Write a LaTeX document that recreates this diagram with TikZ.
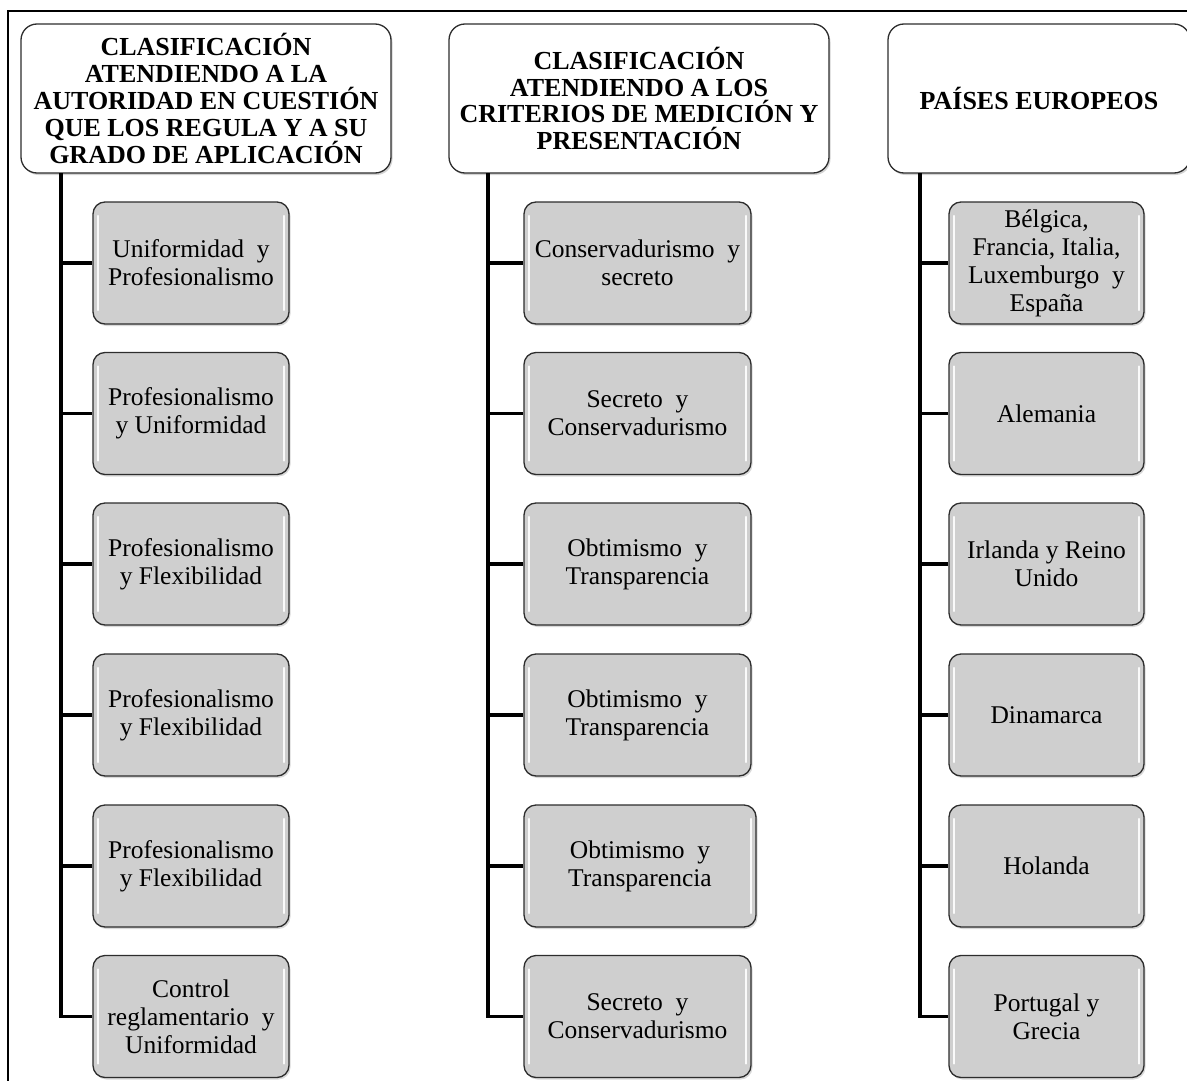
\documentclass[tikz,border=0pt]{standalone}
\usepackage{fontspec}
\setmainfont{Liberation Serif}
\usetikzlibrary{shadows}

\definecolor{itemgray}{RGB}{207,207,207}
\definecolor{edgegray}{RGB}{45,45,45}

\tikzset{
  frameline/.style={line width=2pt, black},
  trunk/.style={line width=3.2pt, black},
  header/.style={
    draw=edgegray, line width=1.3pt, fill=white, rounded corners=16pt,
    align=center, inner sep=0pt, minimum height=149pt,
    font=\fontsize{26}{26.8}\selectfont\bfseries,
    drop shadow={shadow xshift=1.5pt, shadow yshift=-2pt, opacity=0.35}},
  item/.style={
    draw=edgegray, line width=1.3pt, fill=itemgray, rounded corners=12pt,
    align=center, inner sep=0pt, minimum height=122pt,
    font=\fontsize{25.5}{28}\selectfont,
    drop shadow={shadow xshift=1.5pt, shadow yshift=-2pt, opacity=0.3},
    path picture={
      \draw[white, line width=2.4pt, opacity=0.9, line cap=round]
        ([xshift=5pt,yshift=-14pt]path picture bounding box.north west) --
        ([xshift=5pt,yshift=14pt]path picture bounding box.south west);
      \draw[white, line width=2.4pt, opacity=0.9, line cap=round]
        ([xshift=-5pt,yshift=-14pt]path picture bounding box.north east) --
        ([xshift=-5pt,yshift=14pt]path picture bounding box.south east);
    }},
  colA/.style={item, minimum width=196pt},
  colB/.style={item, minimum width=227pt},
  colC/.style={item, minimum width=195pt},
}

\begin{document}
\begin{tikzpicture}[x=1pt, y=-1pt]
\useasboundingbox (0,0) rectangle (1187,1081);

% outer frame (left and top edges)
\draw[frameline] (8,1090) -- (8,11) -- (1195,11);

% headers
\node[header, minimum width=370pt] (h1) at (206,98.5)
  {CLASIFICACIÓN\\ATENDIENDO A LA\\AUTORIDAD EN CUESTIÓN\\QUE LOS REGULA Y A SU\\GRADO DE APLICACIÓN};
\node[header, minimum width=380pt] (h2) at (639,98.5)
  {CLASIFICACIÓN\\ATENDIENDO A LOS\\CRITERIOS DE MEDICIÓN Y\\PRESENTACIÓN};
\node[header, minimum width=302pt] (h3) at (1039,98.5)
  {PAÍSES EUROPEOS};

% first column
\node[colA] (a1) at (191,263)    {Uniformidad \ y\\Profesionalismo};
\node[colA] (a2) at (191,413.5)  {Profesionalismo\\y Uniformidad};
\node[colA] (a3) at (191,564)    {Profesionalismo\\y Flexibilidad};
\node[colA] (a4) at (191,715)    {Profesionalismo\\y Flexibilidad};
\node[colA] (a5) at (191,866)    {Profesionalismo\\y Flexibilidad};
\node[colA] (a6) at (191,1016.5) {Control\\reglamentario \ y\\Uniformidad};

% second column
\node[colB] (b1) at (637.5,263)    {Conservadurismo \ y\\secreto};
\node[colB] (b2) at (637.5,413.5)  {Secreto \ y\\Conservadurismo};
\node[colB] (b3) at (637.5,564)    {Obtimismo \ y\\Transparencia};
\node[colB] (b4) at (637.5,715)    {Obtimismo \ y\\Transparencia};
\node[colB, minimum width=232pt] (b5) at (640,866) {Obtimismo \ y\\Transparencia};
\node[colB] (b6) at (637.5,1016.5) {Secreto \ y\\Conservadurismo};

% third column
\node[colC] (c1) at (1046.5,263)    {Bélgica,\\Francia, Italia,\\Luxemburgo \ y\\España};
\node[colC] (c2) at (1046.5,413.5)  {Alemania};
\node[colC] (c3) at (1046.5,564)    {Irlanda y Reino\\Unido};
\node[colC] (c4) at (1046.5,715)    {Dinamarca};
\node[colC] (c5) at (1046.5,866)    {Holanda};
\node[colC] (c6) at (1046.5,1016.5) {Portugal y\\Grecia};

% trunk roots under each header
\coordinate (ra) at (61,173);
\coordinate (rb) at (488,173);
\coordinate (rc) at (920,173);

% connectors
\draw[trunk] (ra) |- (a6.west);
\foreach \n in {a1,a2,a3,a4,a5} \draw[trunk] (ra |- \n.west) -- (\n.west);
\draw[trunk] (rb) |- (b6.west);
\foreach \n in {b1,b2,b3,b4,b5} \draw[trunk] (rb |- \n.west) -- (\n.west);
\draw[trunk] (rc) |- (c6.west);
\foreach \n in {c1,c2,c3,c4,c5} \draw[trunk] (rc |- \n.west) -- (\n.west);
\end{tikzpicture}
\end{document}
